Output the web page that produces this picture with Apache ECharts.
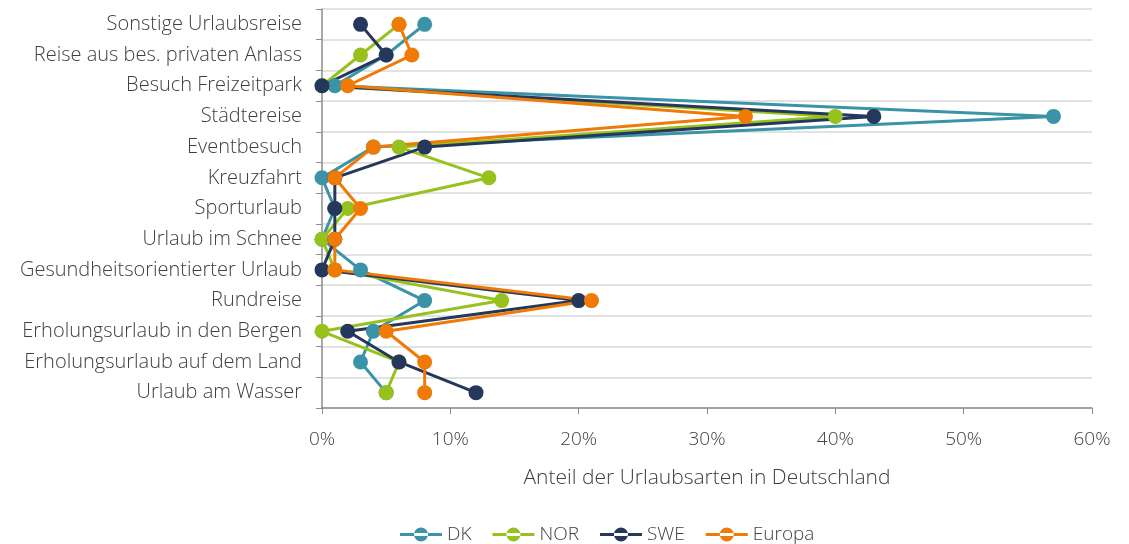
<!DOCTYPE html>
<html><head><meta charset="utf-8">
<script src="https://cdn.jsdelivr.net/npm/echarts@6/dist/echarts.min.js"></script>
<style>html,body{margin:0;padding:0;background:#fff}#c{width:1129px;height:544px}</style>
</head><body><div id="c"></div>
<script>
const categories = ["Sonstige Urlaubsreise","Reise aus bes. privaten Anlass","Besuch Freizeitpark","Städtereise","Eventbesuch","Kreuzfahrt","Sporturlaub","Urlaub im Schnee","Gesundheitsorientierter Urlaub","Rundreise","Erholungsurlaub in den Bergen","Erholungsurlaub auf dem Land","Urlaub am Wasser"];
const DK     = [8, 5, 1, 57, 4, 0, 1, 0, 3, 8, 4, 3, 5];
const NOR    = [6, 3, 0, 40, 6, 13, 2, 0, 1, 14, 0, 6, 5];
const SWE    = [3, 5, 0, 43, 8, 1, 1, 1, 0, 20, 2, 6, 12];
const Europa = [6, 7, 2, 33, 4, 1, 3, 1, 1, 21, 5, 8, 8];
const xTicks = [0, 10, 20, 30, 40, 50, 60];
const colors = {DK:"#3A93A7", NOR:"#97C21E", SWE:"#25375A", Europa:"#EF7A06"};
const font = "'Open Sans', sans-serif";
const fw = 300;
const chart = echarts.init(document.getElementById('c'));
function s(name, data){
  return {name, type:'line', data, symbol:'circle', symbolSize:15,
    lineStyle:{width:3,color:colors[name]}, itemStyle:{color:colors[name]}, animation:false};
}
chart.setOption({
  animation:false,
  grid:{left:322,right:37,top:9,bottom:136,containLabel:false},
  legend:{top:520,left:395,itemWidth:42,itemHeight:14,itemGap:21,
    textStyle:{fontFamily:font,fontWeight:fw,fontSize:19,color:'#404040'},
    data:['DK','NOR','SWE','Europa'],
    icon:'path://M0,5.5 L42,5.5 L42,8.5 L0,8.5 Z M14,7 A7,7 0 1,0 28,7 A7,7 0 1,0 14,7 Z'},
  xAxis:{type:'value',min:xTicks[0],max:xTicks[xTicks.length-1],interval:10,
    name:'Anteil der Urlaubsarten in Deutschland',nameLocation:'middle',nameGap:60,
    nameTextStyle:{fontFamily:font,fontWeight:fw,fontSize:21,color:'#404040'},
    axisLine:{show:true,lineStyle:{color:'#8c8c8c',width:1.5}},
    axisTick:{show:true,length:6,lineStyle:{color:'#8c8c8c'}},
    axisLabel:{formatter:v=>v+'%',fontFamily:font,fontWeight:fw,fontSize:19,color:'#404040',margin:22},
    splitLine:{show:false}},
  yAxis:{type:'category',inverse:true,data:categories,boundaryGap:true,
    axisLine:{show:true,lineStyle:{color:'#8c8c8c',width:1.5}},
    axisTick:{show:true,length:6,lineStyle:{color:'#8c8c8c'}},
    axisLabel:{fontFamily:font,fontWeight:fw,fontSize:20,color:'#404040',margin:20},
    splitLine:{show:true,lineStyle:{color:'#d9d9d9',width:1.5}}},
  series:[s('DK',DK),s('NOR',NOR),s('SWE',SWE),s('Europa',Europa)]
});
</script></body></html>
